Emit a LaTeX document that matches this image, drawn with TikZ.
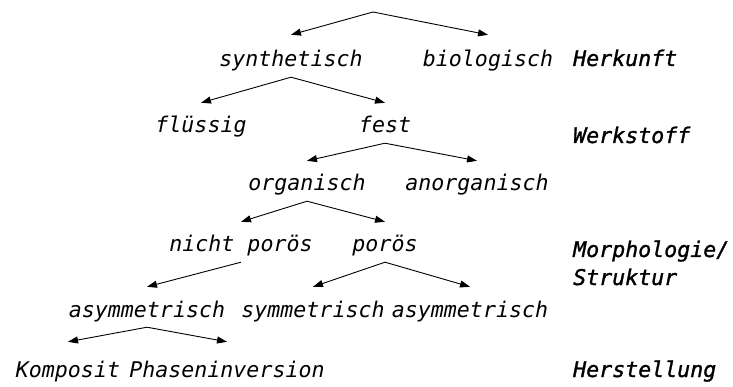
\documentclass[tikz,border=0pt]{standalone}
\usepackage{fontspec}
\setmonofont{DejaVu Sans Mono}
\newfontfamily\lblfont[FakeBold=1.3]{DejaVu Sans Mono}
\usetikzlibrary{arrows.meta}
\begin{document}
\begin{tikzpicture}[x=1pt,y=-1pt,
  term/.style={inner sep=0pt, anchor=base, text height=30pt, text depth=10pt,
    font=\fontsize{21.6}{26}\selectfont\ttfamily\itshape},
  level/.style={inner sep=0pt, anchor=base west,
    font=\fontsize{21.6}{26}\selectfont\lblfont\itshape},
  branch/.style={line width=0.9pt, -{Triangle[length=10pt,width=7pt]}}]
\useasboundingbox (0,0) rectangle (733,387);

% root of the tree
\coordinate (root) at (373,12);

% terms, placed by horizontal centre and baseline
\node[term] (syn)   at (291,67)  {synthetisch};
\node[term] (bio)   at (488,67)  {biologisch};
\node[term] (fl)    at (201,133) {flüssig};
\node[term] (fest)  at (385,133) {fest};
\node[term] (org)   at (307,191) {organisch};
\node[term] (anorg) at (477,191) {anorganisch};
\node[term] (np)    at (241,252) {nicht porös};
\node[term] (por)   at (385,252) {porös};
\node[term] (asa)   at (147,317) {asymmetrisch};
\node[term] (sym)   at (313,317) {symmetrisch};
\node[term] (asb)   at (470,317) {asymmetrisch};
\node[term] (komp)  at (68,377)  {Komposit};
\node[term] (phase) at (227,377) {Phaseninversion};

% level labels
\node[level] (herk)  at (573,66)  {Herkunft};
\node[level] (werk)  at (573,143) {Werkstoff};
\node[level] (morph) at (573,257) {Morphologie/};
\node[level] (strk)  at (573,285) {Struktur};
\node[level] (herst) at (573,377) {Herstellung};

% branches
\draw[branch] (root) -- ([yshift=2pt]syn.north);
\draw[branch] (root) -- ([yshift=2pt]bio.north);
\draw[branch] (syn.south) -- (fl.north);
\draw[branch] (syn.south) -- (fest.north);
\draw[branch] (fest.south) -- (org.north);
\draw[branch] (fest.south) -- (anorg.north);
\draw[branch] (org.south) -- (np.north);
\draw[branch] (org.south) -- (por.north);
\draw[branch] (np.south) -- (asa.north);
\draw[branch] (por.south) -- (sym.north);
\draw[branch] (por.south) -- (asb.north);
\draw[branch] (asa.south) -- ([yshift=5pt]komp.north);
\draw[branch] (asa.south) -- ([yshift=5pt]phase.north);
\end{tikzpicture}
\end{document}
